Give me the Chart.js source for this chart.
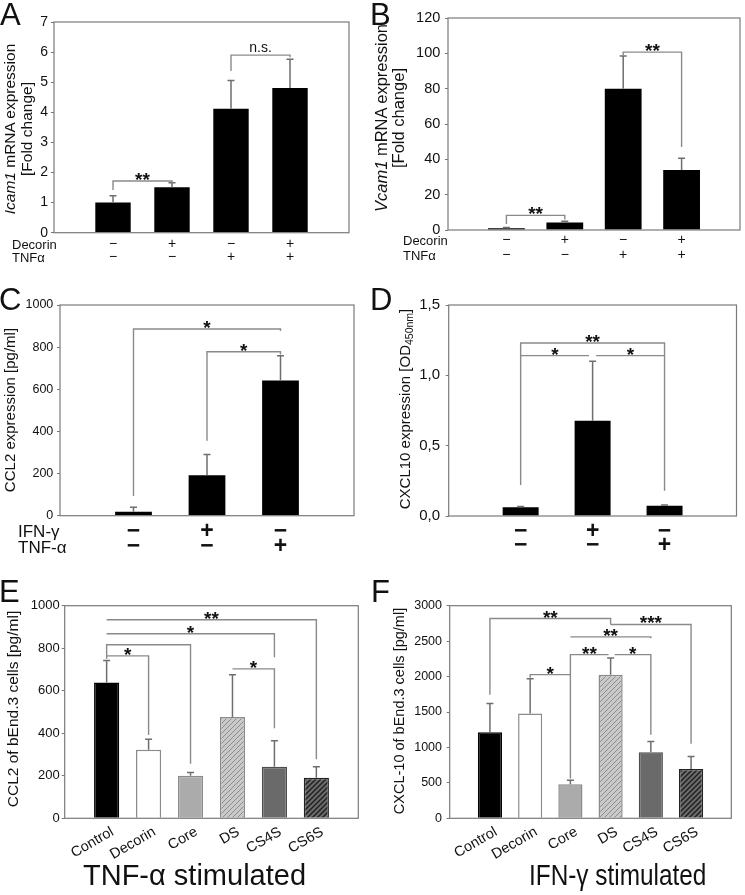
<!DOCTYPE html>
<html>
<head>
<meta charset="utf-8">
<script src="https://cdn.jsdelivr.net/npm/chart.js@4.4.0/dist/chart.umd.min.js"></script>
<style>
body{margin:0;background:#fff;}
#fig{position:relative;width:745px;height:895px;overflow:hidden;font-family:"Liberation Sans",Arial,sans-serif;color:#111;}
canvas{position:absolute;}
.lt{position:absolute;font-size:31px;line-height:31px;}
.yt{position:absolute;transform:translate(-50%,-50%) rotate(-90deg);white-space:nowrap;text-align:center;}
.rl{position:absolute;white-space:nowrap;transform:translateY(-50%);line-height:1;}
.bt{position:absolute;white-space:nowrap;font-size:29px;line-height:29px;}
sub{font-size:70%;vertical-align:-0.3em;line-height:0;}
</style>
</head>
<body>
<div id="fig">
  <canvas id="cA" width="372" height="290" style="left:0;top:0"></canvas>
  <canvas id="cB" width="373" height="290" style="left:372px;top:0"></canvas>
  <canvas id="cC" width="372" height="300" style="left:0;top:290px"></canvas>
  <canvas id="cD" width="373" height="300" style="left:372px;top:290px"></canvas>
  <canvas id="cE" width="372" height="305" style="left:0;top:590px"></canvas>
  <canvas id="cF" width="373" height="305" style="left:372px;top:590px"></canvas>

  <div class="lt" style="left:0;top:-1px">A</div>
  <div class="lt" style="left:370px;top:-1px">B</div>
  <div class="lt" style="left:-1px;top:284px">C</div>
  <div class="lt" style="left:370px;top:284px">D</div>
  <div class="lt" style="left:-1px;top:576px">E</div>
  <div class="lt" style="left:371px;top:576px">F</div>

  <div class="yt" style="left:17.5px;top:129px;font-size:15.5px;line-height:17px"><i>Icam1</i> mRNA expression<br>[Fold change]</div>
  <div class="yt" style="left:390px;top:118px;font-size:16.5px;line-height:17px"><i>Vcam1</i> mRNA expression<br>[Fold change]</div>
  <div class="yt" style="left:9px;top:410px;font-size:15px">CCL2 expression [pg/ml]</div>
  <div class="yt" style="left:404px;top:409px;font-size:15px">CXCL10 expression [OD<sub>450nm</sub>]</div>
  <div class="yt" style="left:13px;top:709px;font-size:15.5px">CCL2 of bEnd.3 cells [pg/ml]</div>
  <div class="yt" style="left:399px;top:711px;font-size:14.5px">CXCL-10 of bEnd.3 cells [pg/ml]</div>

  <div class="rl" style="left:12px;top:244px;font-size:13px">Decorin</div>
  <div class="rl" style="left:12px;top:257px;font-size:13px">TNFα</div>
  <div class="rl" style="left:403px;top:240px;font-size:13px">Decorin</div>
  <div class="rl" style="left:403px;top:255px;font-size:13px">TNFα</div>
  <div class="rl" style="left:18px;top:531px;font-size:17px">IFN-γ</div>
  <div class="rl" style="left:18px;top:547px;font-size:17px">TNF-α</div>

  <div class="bt" style="left:83px;top:861px">TNF-α stimulated</div>
  <div class="bt" style="left:529px;top:861px;transform-origin:0 0;transform:scaleX(0.84)">IFN-γ stimulated</div>
</div>

<script>
// --- data ---
var decorinRow = ['−', '+', '−', '+'];
var tnfRow = ['−', '−', '+', '+'];
var icamMean = [1.0, 1.51, 4.12, 4.81];
var icamErr = [0.23, 0.15, 0.94, 0.95];
var vcamMean = [1.0, 4.3, 80, 34];
var vcamErr = [0.4, 0.6, 18.5, 6.6];

var ifnRow = ['−', '+', '−'];
var tnfRowC = ['−', '−', '+'];
var ccl2Mean = [19, 192, 642];
var ccl2Err = [21, 99, 117];
var cxcl10Mean = [0.062, 0.677, 0.073];
var cxcl10Err = [0.005, 0.423, 0.005];

var groups = ['Control', 'Decorin', 'Core', 'DS', 'CS4S', 'CS6S'];
var ccl2bMean = [639, 322, 200, 476, 243, 191];
var ccl2bErr = [103, 50, 15, 199, 122, 52];
var cxclbMean = [1216, 1479, 481, 2027, 933, 697];
var cxclbErr = [405, 491, 56, 236, 150, 174];

// significance brackets: [from, to, line value, left end, right end, text]
var sigA = [[0, 1, 1.72, 1.42, 1.64, '**'], [2, 3, 5.9, 5.37, 5.83, 'n.s.']];
var sigB = [[0, 1, 8.3, 3.4, 6, '**'], [2, 3, 100.7, 98.8, 47, '**']];
var sigC = [[0, 2, 886, 93, 877, '*'], [1, 2, 778, 356, 765, '*']];
var sigD = [[0, 2, 1.23, 0.22, 0.18, '**'], [0, 0.95, 1.14, 1.14, 1.14, '*'], [1.05, 2, 1.14, 1.14, 1.14, '*']];
var sigE = [[0, 5, 934, 934, 278, '**'], [0, 4, 868, 868, 758, '*'], [0, 2, 816, 764, 256, ''],
            [0, 1, 764, 750, 392, '*'], [3, 4, 703, 703, 424, '*']];
var sigF = [[0, 3, 2819, 1744, 2735, '**'], [3, 5, 2735, 2735, 1051, '***'], [2, 4, 2560, 2560, 2540, '**'],
            [2, 2.95, 2310, 560, 2310, '**'], [3.1, 4, 2310, 2310, 1178, '*'], [1, 2, 2027, 1985, 2027, '*']];

Chart.defaults.font.family = '"Liberation Sans", Arial, sans-serif';
Chart.defaults.color = '#111';

function hatch(canvasId, bg, fg, lw) {
  var s = 5, tile = document.createElement('canvas');
  tile.width = s; tile.height = s;
  var g = tile.getContext('2d');
  g.fillStyle = bg; g.fillRect(0, 0, s, s);
  g.strokeStyle = fg; g.lineWidth = lw;
  g.beginPath();
  g.moveTo(-1, s + 1); g.lineTo(s + 1, -1);
  g.moveTo(-1, 1); g.lineTo(1, -1);
  g.moveTo(s - 1, s + 1); g.lineTo(s + 1, s - 1);
  g.stroke();
  return document.getElementById(canvasId).getContext('2d').createPattern(tile, 'repeat');
}

// error bars, frame and brackets
function annot(cfg) {
  return {
    id: 'annot',
    afterDatasetsDraw: function(chart) {
      var ctx = chart.ctx, x = chart.scales.x, y = chart.scales.y, a = chart.chartArea;
      ctx.save();
      ctx.strokeStyle = '#6e6e6e';
      ctx.lineWidth = 1.5;
      cfg.mean.forEach(function(m, i) {
        var px = x.getPixelForValue(i + 1);
        var y0 = y.getPixelForValue(m), y1 = y.getPixelForValue(m + cfg.err[i]);
        ctx.beginPath();
        ctx.moveTo(px, y0); ctx.lineTo(px, y1);
        ctx.moveTo(px - cfg.cap, y1); ctx.lineTo(px + cfg.cap, y1);
        ctx.stroke();
      });
      ctx.strokeStyle = '#7a7a7a';
      ctx.lineWidth = 1.2;
      ctx.strokeRect(a.left, a.top, a.right - a.left, a.bottom - a.top);

      ctx.strokeStyle = '#8a8a8a';
      ctx.lineWidth = 1.4;
      cfg.sig.forEach(function(s) {
        var xl = x.getPixelForValue(s[0] + 1), xr = x.getPixelForValue(s[1] + 1);
        var yl = y.getPixelForValue(s[2]);
        ctx.beginPath();
        ctx.moveTo(xl, y.getPixelForValue(s[3]));
        ctx.lineTo(xl, yl);
        ctx.lineTo(xr, yl);
        ctx.lineTo(xr, y.getPixelForValue(s[4]));
        ctx.stroke();
        if (!s[5]) return;
        ctx.fillStyle = '#111';
        ctx.textAlign = 'center';
        ctx.textBaseline = 'alphabetic';
        if (s[5] === 'n.s.') {
          ctx.font = '14px "Liberation Sans", Arial, sans-serif';
          ctx.fillText(s[5], (xl + xr) / 2, yl - 3);
        } else {
          ctx.font = 'bold 19px "Liberation Sans", Arial, sans-serif';
          ctx.fillText(s[5], (xl + xr) / 2, yl + 5);
        }
      });
      ctx.restore();
    }
  };
}

function barChart(id, cfg) {
  var labels = [''].concat(cfg.ticks, ['']);
  var data = [null].concat(cfg.mean, [null]);
  new Chart(document.getElementById(id), {
    type: 'bar',
    data: {
      labels: labels,
      datasets: [{
        data: data,
        backgroundColor: [null].concat(cfg.fill, [null]),
        borderColor: [null].concat(cfg.border, [null]),
        borderWidth: cfg.bw,
        barPercentage: cfg.barPct,
        categoryPercentage: 1
      }]
    },
    options: {
      responsive: false,
      animation: false,
      events: [],
      layout: { autoPadding: false, padding: { left: 0, top: cfg.pad[0], right: cfg.pad[1], bottom: 0 } },
      plugins: { legend: { display: false }, tooltip: { enabled: false } },
      scales: {
        x: {
          offset: false,
          grid: { display: false, drawTicks: false },
          border: { display: false },
          afterFit: function(s) { s.height = cfg.xh; },
          ticks: { autoSkip: false, maxRotation: cfg.rot, minRotation: cfg.rot, padding: cfg.xpad,
                   labelOffset: cfg.lofs || 0, color: '#111', font: cfg.xfont }
        },
        y: {
          min: 0, max: cfg.max,
          afterFit: function(s) { s.width = cfg.yw; },
          border: { display: false },
          grid: { drawOnChartArea: false, drawTicks: true, tickLength: 3, color: '#777' },
          ticks: { stepSize: cfg.step, padding: cfg.ypad, color: '#111', font: { size: cfg.ysize }, callback: cfg.fmt }
        }
      }
    },
    plugins: [annot(cfg)]
  });
}

function pairs(r1, r2) {
  return r1.map(function(v, i) { return [v, r2[i]]; });
}
function plain(v) { return v; }
function comma(v) { return v.toFixed(1).replace('.', ','); }

var black4 = ['#000', '#000', '#000', '#000'];
var black3 = ['#000', '#000', '#000'];
var groupFill = ['#000', '#fff', '#ababab', hatch('cE', '#c9c9c9', '#8c8c8c', 1), '#6a6a6a', hatch('cE', '#6b6b6b', '#1e1e1e', 1.4)];
var groupFillF = ['#000', '#fff', '#ababab', hatch('cF', '#c9c9c9', '#8c8c8c', 1), '#6a6a6a', hatch('cF', '#6b6b6b', '#1e1e1e', 1.4)];
var groupBorder = ['#000', '#8a8a8a', '#8a8a8a', '#8a8a8a', '#4d4d4d', '#222'];

barChart('cA', {
  ticks: pairs(decorinRow, tnfRow), mean: icamMean, err: icamErr, sig: sigA,
  fill: black4, border: black4, bw: 0, barPct: 0.6, cap: 3.5,
  pad: [22, 23], yw: 54, xh: 57.3, max: 7, step: 1, ypad: 3, ysize: 14, fmt: plain,
  rot: 0, xpad: 5, xfont: { size: 14, lineHeight: '12.7px' }
});
barChart('cB', {
  ticks: pairs(decorinRow, tnfRow), mean: vcamMean, err: vcamErr, sig: sigB,
  fill: black4, border: black4, bw: 0, barPct: 0.63, cap: 3.5,
  pad: [18, 5], yw: 76, xh: 60, max: 120, step: 20, ypad: 4.7, ysize: 14.5, fmt: plain,
  rot: 0, xpad: 3, xfont: { size: 14, lineHeight: '14.5px' }
});
barChart('cC', {
  ticks: pairs(ifnRow, tnfRowC), mean: ccl2Mean, err: ccl2Err, sig: sigC,
  fill: black3, border: black3, bw: 0, barPct: 0.5, cap: 3.5,
  pad: [15, 18], yw: 60, xh: 74.3, max: 1000, step: 200, ypad: 3.7, ysize: 12.5, fmt: plain,
  rot: 0, xpad: 8.3, xfont: { size: 23, weight: 'bold', lineHeight: '15.3px' }
});
barChart('cD', {
  ticks: pairs(ifnRow, tnfRowC), mean: cxcl10Mean, err: cxcl10Err, sig: sigD,
  fill: black3, border: black3, bw: 0, barPct: 0.5, cap: 3.5,
  pad: [15, 3], yw: 76.7, xh: 74, max: 1.5, step: 0.5, ypad: 5.7, ysize: 15, fmt: comma,
  rot: 0, xpad: 8.5, xfont: { size: 23, weight: 'bold', lineHeight: '14px' }
});
barChart('cE', {
  ticks: groups, mean: ccl2bMean, err: ccl2bErr, sig: sigE,
  fill: groupFill, border: groupBorder, bw: 1.5, barPct: 0.6, cap: 3.5,
  pad: [15.7, 13.3], yw: 64.7, xh: 76.7, max: 1000, step: 200, ypad: 2, ysize: 13, fmt: plain,
  rot: 30, xpad: 5, lofs: 6, xfont: { size: 14.5 }
});
barChart('cF', {
  ticks: groups, mean: cxclbMean, err: cxclbErr, sig: sigF,
  fill: groupFillF, border: groupBorder, bw: 1.5, barPct: 0.6, cap: 3.5,
  pad: [15.7, 2.3], yw: 77.7, xh: 76.7, max: 3000, step: 500, ypad: 4.7, ysize: 12.5, fmt: plain,
  rot: 30, xpad: 5, lofs: 6, xfont: { size: 14.5 }
});
</script>
</body>
</html>
